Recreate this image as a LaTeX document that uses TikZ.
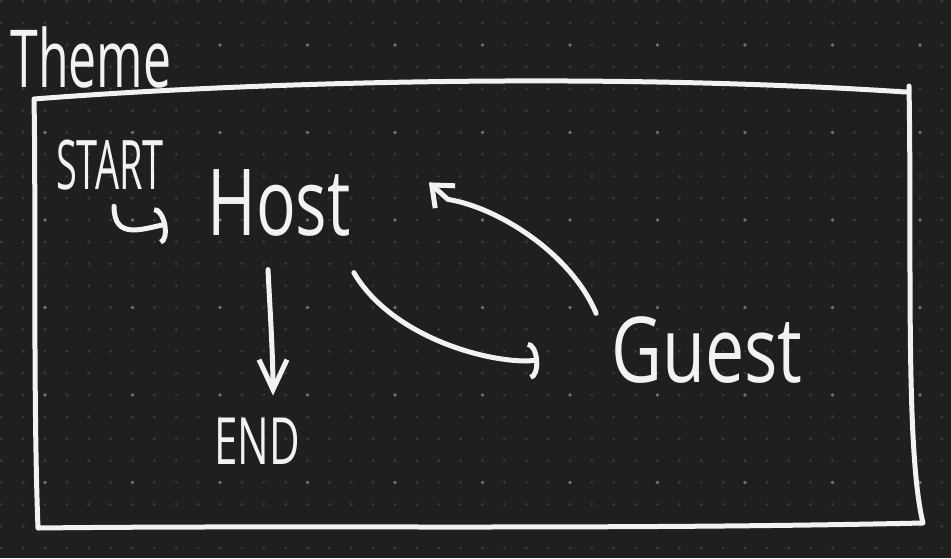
\documentclass[tikz,border=0pt]{standalone}
\usepackage{fontspec}
\setmainfont{Open Sans}
\usetikzlibrary{arrows.meta,calc}
\definecolor{board}{HTML}{1F1F1F}
\definecolor{grain}{HTML}{3C3C3C}
\definecolor{grainhi}{HTML}{707070}
\definecolor{chalk}{HTML}{F2F2F2}
\newcommand{\tall}[2]{\scalebox{1}[#1]{#2}}
\begin{document}
\begin{tikzpicture}[
        x=1pt, y=-1pt,
        ink/.style={draw=chalk, line width=5pt, line cap=round, line join=round},
        word/.style={text=chalk, inner sep=0pt, anchor=center},
        big/.style={word, font=\fontsize{66}{66}\selectfont},
        tag/.style={word, font=\fontsize{38}{38}\selectfont},
        vee/.style={-{Straight Barb[length=30pt,width=28pt,line width=5pt]}},
        hook/.style={-{Arc Barb[length=10pt,width=38pt,line width=5pt]}},
        barb/.style={-{Straight Barb[length=18pt,width=30pt,line width=5pt]}}
    ]
        \fill[board] (0,0) rectangle (951,558);
        \useasboundingbox (0,0) rectangle (951,558);
        % dot grid
        \foreach \i in {-2,...,41}
            \foreach \j in {-2,...,23}
                \fill[grain] (45+21.875*\i,45+21.875*\j) circle (1.4);
        \foreach \i in {0,...,10}
            \foreach \j in {0,...,5}
                \fill[grainhi] (45+87.5*\i,45+87.5*\j) circle (1.9);
        % frame
        \draw[ink] (34,99) .. controls (250,82) and (600,72) .. (906,92)
            (909,86) .. controls (912,250) and (905,450) .. (923,523)
            .. controls (600,530) and (300,525) .. (38,528)
            .. controls (33,400) and (36,200) .. (34,99);
        \node[word, font=\fontsize{50}{50}\selectfont] (theme) at (91,57) {\tall{1.6}{Theme}};
        \node[tag] (start) at (110,165) {\tall{1.8}{START}};
        \node[big] (host) at (279,203) {\tall{1.4}{Host}};
        \node[tag, font=\fontsize{42}{42}\selectfont] (end) at (257,441) {\tall{1.55}{END}};
        \node[big, font=\fontsize{70}{70}\selectfont] (guest) at (707,350) {\tall{1.3}{Guest}};
        \draw[ink, hook] ([shift={(4,16)}]start.south) .. controls +(0,34) and +(-25,5) .. ([shift={(-40,21)}]host.west);
        \draw[ink, vee] ([shift={(-11,33)}]host.south) .. controls +(2,40) and +(0,-40) .. ([shift={(16,-22)}]end.north);
        \draw[ink, hook] ([shift={(3,36)}]host.south east) .. controls +(35,60) and +(-50,0) .. ([shift={(-84,11)}]guest.west) -- ++(12,-1);
        \draw[ink, barb] ([shift={(-15,-3)}]guest.north west) .. controls +(-25,-60) and +(50,8) .. ([shift={(97,30)}]host.north east) -- ++(-19,-17);
    \end{tikzpicture}
\end{document}
